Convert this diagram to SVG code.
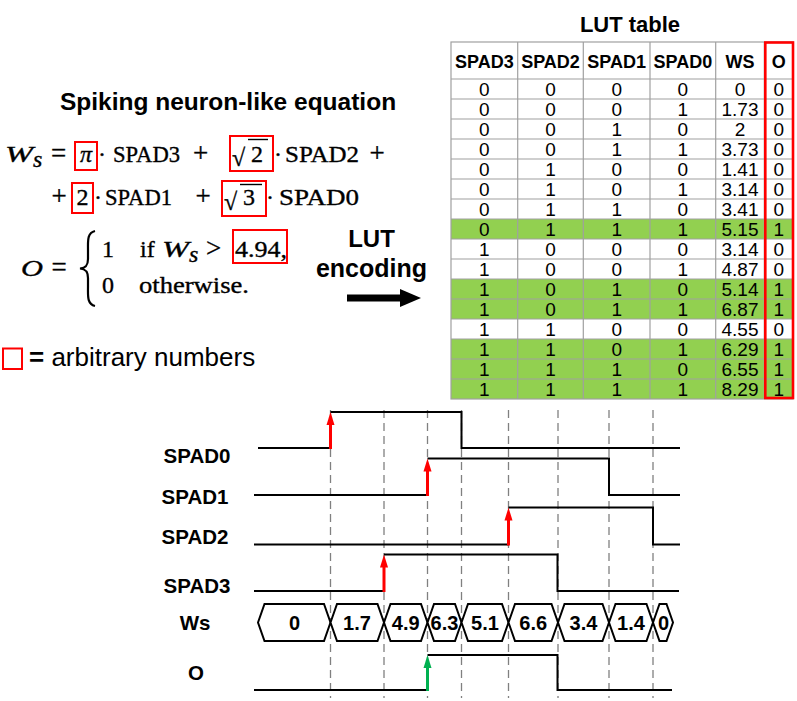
<svg xmlns="http://www.w3.org/2000/svg" width="797" height="701" viewBox="0 0 797 701">
<style>
.eq{font-family:"Liberation Serif","DejaVu Serif",serif;font-size:24px;fill:#000;stroke:#000;stroke-width:0.35}
.op{font-size:27px}
.it{font-style:italic}
.rb{fill:none;stroke:#ff0000;stroke-width:2}
.ttl{font-family:"Liberation Sans",Arial,sans-serif;font-weight:bold;fill:#000}
.hd{font-family:"Liberation Sans",Arial,sans-serif;font-weight:bold;font-size:18px;text-anchor:middle}
.cell{font-family:"Liberation Sans",Arial,sans-serif;font-size:19px;text-anchor:middle}
.grid{stroke:#a0a0a0;stroke-width:1.2;fill:none}
.green{fill:#92d050}
.sig{fill:none;stroke:#000;stroke-width:2}
.dash{stroke:#808080;stroke-width:1.3;stroke-dasharray:8 5}
.lbl{font-family:"Liberation Sans",Arial,sans-serif;font-weight:bold;font-size:20.5px;text-anchor:middle}
.bus{fill:#fff;stroke:#000;stroke-width:2}
.bt{font-family:"Liberation Sans",Arial,sans-serif;font-weight:bold;font-size:20px;text-anchor:middle}
.ra{stroke:#ff0000;stroke-width:3}
.ga{stroke:#00b050;stroke-width:3}
.vb{stroke:#000;stroke-width:1.4}
</style>
<rect width="797" height="701" fill="#fff"/>

<g id="equation">
<text class="ttl" x="228" y="110" font-size="24.5" text-anchor="middle">Spiking neuron-like equation</text>
<!-- line 1 -->
<text class="eq it" x="5" y="162" font-size="25" textLength="28" lengthAdjust="spacingAndGlyphs">W</text>
<text class="eq it" x="33" y="167" font-size="16">s</text>
<text class="eq op" x="58.5" y="162" text-anchor="middle">=</text>
<rect class="rb" x="75" y="142" width="22" height="28"/>
<text class="eq it" x="86" y="162" text-anchor="middle">π</text>
<text class="eq" x="98" y="162">·</text>
<text class="eq" x="113" y="162" textLength="67" lengthAdjust="spacingAndGlyphs">SPAD3</text>
<text class="eq op" x="200.5" y="162" text-anchor="middle">+</text>
<rect class="rb" x="230" y="136" width="43" height="35"/>
<text class="eq" x="232" y="166" font-size="32">√</text>
<line class="vb" x1="248" y1="139.5" x2="268" y2="139.5"/>
<text class="eq" x="251" y="162">2</text>
<text class="eq" x="274" y="162">·</text>
<text class="eq" x="285" y="162" textLength="74" lengthAdjust="spacingAndGlyphs">SPAD2</text>
<text class="eq op" x="377" y="162" text-anchor="middle">+</text>
<!-- line 2 -->
<text class="eq op" x="59" y="205" text-anchor="middle">+</text>
<rect class="rb" x="72" y="183" width="21" height="30"/>
<text class="eq" x="82.5" y="205" text-anchor="middle">2</text>
<text class="eq" x="94" y="205">·</text>
<text class="eq" x="105" y="205" textLength="67" lengthAdjust="spacingAndGlyphs">SPAD1</text>
<text class="eq op" x="203" y="205" text-anchor="middle">+</text>
<rect class="rb" x="222" y="181" width="44" height="35"/>
<text class="eq" x="224" y="210" font-size="32">√</text>
<line class="vb" x1="240" y1="184.5" x2="262" y2="184.5"/>
<text class="eq" x="243" y="205">3</text>
<text class="eq" x="266" y="205">·</text>
<text class="eq" x="279" y="205" textLength="80" lengthAdjust="spacingAndGlyphs">SPAD0</text>
<!-- line 3 -->
<text class="eq it" x="21" y="276" font-size="25" textLength="22" lengthAdjust="spacingAndGlyphs">O</text>
<text class="eq op" x="59" y="276" text-anchor="middle">=</text>
<path d="M95,231 C87,233 88,241 88,250 L88,259 C88,265 86,268 80,268.5 C86,269 88,272 88,278 L88,287 C88,296 87,304 95,306" fill="none" stroke="#000" stroke-width="2.2"/>
<text class="eq" x="102" y="257">1</text>
<text class="eq" x="140" y="257">if</text>
<text class="eq it" x="162" y="257" font-size="25" textLength="27" lengthAdjust="spacingAndGlyphs">W</text>
<text class="eq it" x="189" y="262" font-size="16">s</text>
<text class="eq op" x="213.5" y="257" text-anchor="middle">&gt;</text>
<rect class="rb" x="233" y="230" width="54" height="33"/>
<text class="eq" x="235" y="257" textLength="52" lengthAdjust="spacingAndGlyphs">4.94,</text>
<text class="eq" x="102" y="293">0</text>
<text class="eq" x="139" y="293" textLength="110" lengthAdjust="spacingAndGlyphs">otherwise.</text>
</g>

<g id="legend">
<rect class="rb" x="3" y="348.5" width="19" height="20.5"/>
<text x="29" y="366" font-family="Liberation Sans, Arial, sans-serif" font-size="26"><tspan font-weight="bold">=</tspan> arbitrary numbers</text>
</g>

<g id="lut-encoding">
<text class="ttl" x="371.5" y="247" font-size="24" text-anchor="middle">LUT</text>
<text class="ttl" x="371.5" y="277" font-size="25" text-anchor="middle">encoding</text>
<rect x="347" y="294.5" width="55" height="7" fill="#000"/>
<polygon points="400,289 421,298 400,307" fill="#000"/>
</g>

<g id="lut-table">
<text class="ttl" x="630" y="31.5" font-size="22" text-anchor="middle">LUT table</text>
<rect class="green" x="451" y="219" width="342" height="20"/>
<rect class="green" x="451" y="279" width="342" height="40"/>
<rect class="green" x="451" y="339" width="342" height="60"/>
<g class="grid">
<rect x="451" y="42" width="342" height="357"/>
<line x1="517.7" y1="42" x2="517.7" y2="399"/>
<line x1="583.3" y1="42" x2="583.3" y2="399"/>
<line x1="650" y1="42" x2="650" y2="399"/>
<line x1="715.7" y1="42" x2="715.7" y2="399"/>
<line x1="764.3" y1="42" x2="764.3" y2="399"/>
<line x1="451" y1="79" x2="793" y2="79"/>
<line x1="451" y1="99" x2="793" y2="99"/>
<line x1="451" y1="119" x2="793" y2="119"/>
<line x1="451" y1="139" x2="793" y2="139"/>
<line x1="451" y1="159" x2="793" y2="159"/>
<line x1="451" y1="179" x2="793" y2="179"/>
<line x1="451" y1="199" x2="793" y2="199"/>
<line x1="451" y1="219" x2="793" y2="219"/>
<line x1="451" y1="239" x2="793" y2="239"/>
<line x1="451" y1="259" x2="793" y2="259"/>
<line x1="451" y1="279" x2="793" y2="279"/>
<line x1="451" y1="299" x2="793" y2="299"/>
<line x1="451" y1="319" x2="793" y2="319"/>
<line x1="451" y1="339" x2="793" y2="339"/>
<line x1="451" y1="359" x2="793" y2="359"/>
<line x1="451" y1="379" x2="793" y2="379"/>
</g>
<g class="hd">
<text x="484.3" y="68">SPAD3</text>
<text x="550.5" y="68">SPAD2</text>
<text x="616.7" y="68">SPAD1</text>
<text x="682.8" y="68">SPAD0</text>
<text x="740" y="68">WS</text>
<text x="778.8" y="68">O</text>
</g>
<g class="cell">
<text x="484.3" y="96">0</text><text x="550.5" y="96">0</text><text x="616.7" y="96">0</text><text x="682.8" y="96">0</text><text x="740" y="96">0</text><text x="778.8" y="96">0</text>
<text x="484.3" y="116">0</text><text x="550.5" y="116">0</text><text x="616.7" y="116">0</text><text x="682.8" y="116">1</text><text x="740" y="116">1.73</text><text x="778.8" y="116">0</text>
<text x="484.3" y="136">0</text><text x="550.5" y="136">0</text><text x="616.7" y="136">1</text><text x="682.8" y="136">0</text><text x="740" y="136">2</text><text x="778.8" y="136">0</text>
<text x="484.3" y="156">0</text><text x="550.5" y="156">0</text><text x="616.7" y="156">1</text><text x="682.8" y="156">1</text><text x="740" y="156">3.73</text><text x="778.8" y="156">0</text>
<text x="484.3" y="176">0</text><text x="550.5" y="176">1</text><text x="616.7" y="176">0</text><text x="682.8" y="176">0</text><text x="740" y="176">1.41</text><text x="778.8" y="176">0</text>
<text x="484.3" y="196">0</text><text x="550.5" y="196">1</text><text x="616.7" y="196">0</text><text x="682.8" y="196">1</text><text x="740" y="196">3.14</text><text x="778.8" y="196">0</text>
<text x="484.3" y="216">0</text><text x="550.5" y="216">1</text><text x="616.7" y="216">1</text><text x="682.8" y="216">0</text><text x="740" y="216">3.41</text><text x="778.8" y="216">0</text>
<text x="484.3" y="236">0</text><text x="550.5" y="236">1</text><text x="616.7" y="236">1</text><text x="682.8" y="236">1</text><text x="740" y="236">5.15</text><text x="778.8" y="236">1</text>
<text x="484.3" y="256">1</text><text x="550.5" y="256">0</text><text x="616.7" y="256">0</text><text x="682.8" y="256">0</text><text x="740" y="256">3.14</text><text x="778.8" y="256">0</text>
<text x="484.3" y="276">1</text><text x="550.5" y="276">0</text><text x="616.7" y="276">0</text><text x="682.8" y="276">1</text><text x="740" y="276">4.87</text><text x="778.8" y="276">0</text>
<text x="484.3" y="296">1</text><text x="550.5" y="296">0</text><text x="616.7" y="296">1</text><text x="682.8" y="296">0</text><text x="740" y="296">5.14</text><text x="778.8" y="296">1</text>
<text x="484.3" y="316">1</text><text x="550.5" y="316">0</text><text x="616.7" y="316">1</text><text x="682.8" y="316">1</text><text x="740" y="316">6.87</text><text x="778.8" y="316">1</text>
<text x="484.3" y="336">1</text><text x="550.5" y="336">1</text><text x="616.7" y="336">0</text><text x="682.8" y="336">0</text><text x="740" y="336">4.55</text><text x="778.8" y="336">0</text>
<text x="484.3" y="356">1</text><text x="550.5" y="356">1</text><text x="616.7" y="356">0</text><text x="682.8" y="356">1</text><text x="740" y="356">6.29</text><text x="778.8" y="356">1</text>
<text x="484.3" y="376">1</text><text x="550.5" y="376">1</text><text x="616.7" y="376">1</text><text x="682.8" y="376">0</text><text x="740" y="376">6.55</text><text x="778.8" y="376">1</text>
<text x="484.3" y="396">1</text><text x="550.5" y="396">1</text><text x="616.7" y="396">1</text><text x="682.8" y="396">1</text><text x="740" y="396">8.29</text><text x="778.8" y="396">1</text>
</g>
<rect x="765.3" y="42.5" width="27.7" height="355.5" fill="none" stroke="#ff0000" stroke-width="2.6"/>
</g>

<g id="timing-grid">
<line class="dash" x1="330.5" y1="410" x2="330.5" y2="698"/>
<line class="dash" x1="384" y1="410" x2="384" y2="698"/>
<line class="dash" x1="427.5" y1="410" x2="427.5" y2="698"/>
<line class="dash" x1="461.5" y1="410" x2="461.5" y2="698"/>
<line class="dash" x1="508.5" y1="410" x2="508.5" y2="698"/>
<line class="dash" x1="558" y1="410" x2="558" y2="698"/>
<line class="dash" x1="609" y1="410" x2="609" y2="698"/>
<line class="dash" x1="653" y1="410" x2="653" y2="698"/>
</g>

<g id="spad0">
<text class="lbl" x="197" y="463">SPAD0</text>
<path class="sig" d="M258,448 H330.5 M330.5,412 H461.5 V448 H680"/>
</g>
<g id="spad1">
<text class="lbl" x="195" y="504">SPAD1</text>
<path class="sig" d="M254,495 H427.5 M427.5,458.5 H609 V495 H680"/>
</g>
<g id="spad2">
<text class="lbl" x="195" y="544">SPAD2</text>
<path class="sig" d="M254,544.5 H508.5 M508.5,507.5 H653 V544.5 H680"/>
</g>
<g id="spad3">
<text class="lbl" x="197" y="593">SPAD3</text>
<path class="sig" d="M254,591 H384 M384,554.5 H557.5 V591 H679"/>
</g>
<g id="ws">
<text class="lbl" x="195" y="629.5">Ws</text>
<polygon class="bus" points="258,622.5 264.5,604 324,604 330.5,622.5 324,641 264.5,641"/>
<polygon class="bus" points="330.5,622.5 337,604 377.5,604 384,622.5 377.5,641 337,641"/>
<polygon class="bus" points="384,622.5 390.5,604 421,604 427.5,622.5 421,641 390.5,641"/>
<polygon class="bus" points="427.5,622.5 434,604 455,604 461.5,622.5 455,641 434,641"/>
<polygon class="bus" points="461.5,622.5 468,604 502,604 508.5,622.5 502,641 468,641"/>
<polygon class="bus" points="508.5,622.5 515,604 551.5,604 558,622.5 551.5,641 515,641"/>
<polygon class="bus" points="558,622.5 564.5,604 602.5,604 609,622.5 602.5,641 564.5,641"/>
<polygon class="bus" points="609,622.5 615.5,604 646.5,604 653,622.5 646.5,641 615.5,641"/>
<polygon class="bus" points="653,622.5 659.5,604 666.5,604 673,622.5 666.5,641 659.5,641"/>
<g class="bt">
<text x="294.5" y="629.5">0</text>
<text x="357" y="629.5">1.7</text>
<text x="405.7" y="629.5">4.9</text>
<text x="444.5" y="629.5">6.3</text>
<text x="485" y="629.5">5.1</text>
<text x="533.2" y="629.5">6.6</text>
<text x="583.5" y="629.5">3.4</text>
<text x="631" y="629.5">1.4</text>
<text x="663.5" y="629.5">0</text>
</g>
</g>
<g id="o">
<text class="lbl" x="196" y="680">O</text>
<path class="sig" d="M254,690 H427.5 M427.5,655 H557.5 V690 H672"/>
</g>

<g id="connectors">
<line class="ra" x1="330.5" y1="449" x2="330.5" y2="423"/>
<polygon points="326.5,425 330.5,412 334.5,425" fill="#ff0000"/>
<line class="ra" x1="427.5" y1="496" x2="427.5" y2="469"/>
<polygon points="423.5,471.5 427.5,458.5 431.5,471.5" fill="#ff0000"/>
<line class="ra" x1="508.5" y1="545.5" x2="508.5" y2="518"/>
<polygon points="504.5,520.5 508.5,507.5 512.5,520.5" fill="#ff0000"/>
<line class="ra" x1="384" y1="592" x2="384" y2="565"/>
<polygon points="380,567.5 384,554.5 388,567.5" fill="#ff0000"/>
<line class="ga" x1="427.5" y1="691" x2="427.5" y2="666"/>
<polygon points="423.5,668 427.5,655 431.5,668" fill="#00b050"/>
</g>
</svg>
